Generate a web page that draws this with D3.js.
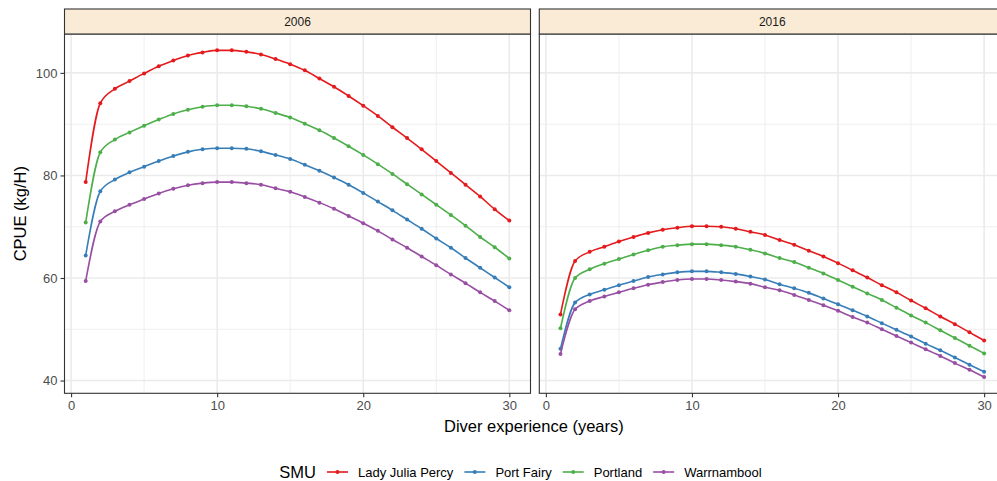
<!DOCTYPE html>
<html>
<head>
<meta charset="utf-8">
<script src="https://cdn.jsdelivr.net/npm/d3@7"></script>
<style>
  body { margin: 0; background: #fff; }
  svg { display: block; font-family: "Liberation Sans", Arial, sans-serif; }
</style>
</head>
<body>
<div id="chart"></div>
<script>
// diver experience (years)
const experience = d3.range(1, 31);
const years = ['2006', '2016'];
const smus = ['Lady Julia Percy', 'Port Fairy', 'Portland', 'Warrnambool'];
const smuColors = ['#E41A1C', '#377EB8', '#4DAF4A', '#984EA3'];

// CPUE (kg/H), 2006
const ljp2006 = [78.7, 94.1, 96.9, 98.4, 99.9, 101.3, 102.4, 103.4, 104.0, 104.4, 104.4, 104.1, 103.6, 102.7, 101.7,
  100.5, 98.9, 97.3, 95.5, 93.6, 91.6, 89.4, 87.3, 85.1, 82.8, 80.5, 78.2, 75.9, 73.4, 71.2];
const pf2006 = [64.4, 76.9, 79.2, 80.6, 81.7, 82.8, 83.8, 84.6, 85.1, 85.3, 85.3, 85.2, 84.7, 84.0, 83.2,
  82.1, 80.9, 79.6, 78.2, 76.6, 74.9, 73.2, 71.4, 69.6, 67.7, 65.9, 63.9, 62.0, 60.1, 58.2];
const portland2006 = [70.8, 84.5, 87.0, 88.4, 89.7, 90.9, 92.0, 92.8, 93.4, 93.7, 93.7, 93.5, 93.0, 92.2, 91.3,
  90.1, 88.8, 87.3, 85.7, 84.0, 82.2, 80.3, 78.3, 76.3, 74.3, 72.3, 70.2, 68.0, 66.0, 63.8];
const warr2006 = [59.4, 71.0, 73.0, 74.3, 75.4, 76.5, 77.4, 78.1, 78.5, 78.7, 78.7, 78.5, 78.2, 77.5, 76.8,
  75.8, 74.7, 73.5, 72.1, 70.7, 69.2, 67.5, 65.9, 64.2, 62.5, 60.7, 59.0, 57.2, 55.5, 53.7];

// CPUE (kg/H), 2016
const ljp2016 = [52.9, 63.3, 65.1, 66.1, 67.1, 68.0, 68.8, 69.4, 69.8, 70.1, 70.1, 70.0, 69.6, 69.0, 68.4,
  67.4, 66.5, 65.3, 64.2, 62.9, 61.5, 60.1, 58.6, 57.2, 55.6, 54.1, 52.5, 51.0, 49.4, 47.8];
const pf2016 = [46.2, 55.2, 56.8, 57.7, 58.6, 59.4, 60.2, 60.7, 61.1, 61.3, 61.3, 61.1, 60.8, 60.3, 59.7,
  58.8, 58.0, 57.1, 56.0, 54.9, 53.7, 52.5, 51.2, 49.9, 48.6, 47.2, 45.9, 44.5, 43.1, 41.7];
const portland2016 = [50.2, 60.0, 61.7, 62.8, 63.7, 64.6, 65.4, 66.1, 66.4, 66.6, 66.6, 66.4, 66.1, 65.5, 64.8,
  63.9, 63.1, 62.0, 60.9, 59.6, 58.3, 57.0, 55.7, 54.2, 52.7, 51.3, 49.8, 48.3, 46.8, 45.3];
const warr2016 = [45.2, 53.9, 55.5, 56.4, 57.2, 58.0, 58.7, 59.2, 59.6, 59.8, 59.8, 59.6, 59.3, 58.9, 58.2,
  57.6, 56.7, 55.7, 54.7, 53.6, 52.4, 51.3, 50.0, 48.7, 47.4, 46.1, 44.8, 43.4, 42.1, 40.7];

const xTicks = [0, 10, 20, 30];
const xMinor = [5, 15, 25];
const yTicks = [40, 60, 80, 100];
const yMinor = [50, 70, 90];

const panelValues = {
  '2006': [ljp2006, pf2006, portland2006, warr2006],
  '2016': [ljp2016, pf2016, portland2016, warr2016]
};

const W = 997, H = 481;
const panelW = 466, panelTop = 34, panelBottom = 393.3, stripH = 25;
const panelLeft = [64.5, 539.3];

const svg = d3.select('#chart').append('svg')
  .attr('width', W).attr('height', H);

// shared scales (ggplot style 5% expansion)
const allVals = [].concat(...years.map(y => [].concat(...panelValues[y])));
const yExt = d3.extent(allVals);
const yPad = (yExt[1] - yExt[0]) * 0.05;
const y = d3.scaleLinear().domain([yExt[0] - yPad, yExt[1] + yPad]).range([panelBottom, panelTop]);
const xPad = (30 - 1) * 0.05;
const x = d3.scaleLinear().domain([1 - xPad, 30 + xPad]).range([0, panelW]);

const color = d3.scaleOrdinal().domain(smus).range(smuColors);

const line = d3.line()
  .x(d => x(d.t))
  .y(d => y(d.v))
  .curve(d3.curveMonotoneX);

years.forEach((yr, pi) => {
  const g = svg.append('g').attr('transform', 'translate(' + panelLeft[pi] + ',0)');

  // minor grid
  g.selectAll('.gx-minor').data(xMinor).enter().append('line')
    .attr('x1', d => x(d)).attr('x2', d => x(d))
    .attr('y1', panelTop).attr('y2', panelBottom)
    .attr('stroke', '#EBEBEB').attr('stroke-width', 0.8);
  g.selectAll('.gy-minor').data(yMinor).enter().append('line')
    .attr('x1', 0).attr('x2', panelW)
    .attr('y1', d => y(d)).attr('y2', d => y(d))
    .attr('stroke', '#EBEBEB').attr('stroke-width', 0.8);
  // major grid
  g.selectAll('.gx').data(xTicks).enter().append('line')
    .attr('x1', d => x(d)).attr('x2', d => x(d))
    .attr('y1', panelTop).attr('y2', panelBottom)
    .attr('stroke', '#EBEBEB').attr('stroke-width', 1.6);
  g.selectAll('.gy').data(yTicks).enter().append('line')
    .attr('x1', 0).attr('x2', panelW)
    .attr('y1', d => y(d)).attr('y2', d => y(d))
    .attr('stroke', '#EBEBEB').attr('stroke-width', 1.6);

  // series
  smus.forEach((s, si) => {
    const pts = experience.map((t, i) => ({ t: t, v: panelValues[yr][si][i] }));
    g.append('path').datum(pts)
      .attr('d', line)
      .attr('fill', 'none')
      .attr('stroke', color(s))
      .attr('stroke-width', 1.6);
    g.selectAll(null).data(pts).enter().append('circle')
      .attr('cx', d => x(d.t)).attr('cy', d => y(d.v))
      .attr('r', 2)
      .attr('fill', color(s));
  });

  // panel border
  g.append('rect')
    .attr('x', 0).attr('y', panelTop)
    .attr('width', panelW).attr('height', panelBottom - panelTop)
    .attr('fill', 'none').attr('stroke', '#333333').attr('stroke-width', 1.1);

  // strip
  g.append('rect')
    .attr('x', 0).attr('y', panelTop - stripH)
    .attr('width', panelW).attr('height', stripH)
    .attr('fill', '#FAEBD7').attr('stroke', '#333333').attr('stroke-width', 1.1);
  g.append('text')
    .attr('x', panelW / 2).attr('y', panelTop - stripH / 2)
    .attr('dy', '0.35em')
    .attr('text-anchor', 'middle')
    .attr('font-size', '12px')
    .attr('fill', '#1A1A1A')
    .text(yr);

  // x axis
  const xa = g.append('g').attr('transform', 'translate(0,' + panelBottom + ')')
    .call(d3.axisBottom(x).tickValues(xTicks).tickSize(4).tickPadding(3));
  xa.select('.domain').remove();
  xa.selectAll('line').attr('stroke', '#333333').attr('stroke-width', 1.1);
  xa.selectAll('text').attr('font-size', '13px').attr('fill', '#4D4D4D')
    .attr('font-family', '"Liberation Sans", Arial, sans-serif');

  // y axis on first panel only
  if (pi === 0) {
    const ya = g.append('g')
      .call(d3.axisLeft(y).tickValues(yTicks).tickSize(4).tickPadding(3));
    ya.select('.domain').remove();
    ya.selectAll('line').attr('stroke', '#333333').attr('stroke-width', 1.1);
    ya.selectAll('text').attr('font-size', '13px').attr('fill', '#4D4D4D')
      .attr('font-family', '"Liberation Sans", Arial, sans-serif');
  }
});

// axis titles
svg.append('text')
  .attr('x', (panelLeft[0] + panelLeft[1] + panelW) / 2 - 1).attr('y', 432)
  .attr('text-anchor', 'middle')
  .attr('font-size', '16.5px')
  .attr('fill', '#000')
  .text('Diver experience (years)');

svg.append('text')
  .attr('transform', 'translate(26,' + ((panelTop + panelBottom) / 2) + ') rotate(-90)')
  .attr('text-anchor', 'middle')
  .attr('font-size', '16.5px')
  .attr('fill', '#000')
  .text('CPUE (kg/H)');

// legend
const legend = svg.append('g');
const legY = 472;
const title = legend.append('text')
  .attr('x', 0).attr('y', legY).attr('dy', '0.35em')
  .attr('font-size', '16.5px').text('SMU');
let cursor = title.node().getComputedTextLength() + 11;
smus.forEach((s, i) => {
  legend.append('line')
    .attr('x1', cursor).attr('x2', cursor + 21)
    .attr('y1', legY).attr('y2', legY)
    .attr('stroke', color(s)).attr('stroke-width', 1.6);
  legend.append('circle')
    .attr('cx', cursor + 10.5).attr('cy', legY).attr('r', 2)
    .attr('fill', color(s));
  cursor += 21 + 10;
  const t = legend.append('text')
    .attr('x', cursor).attr('y', legY).attr('dy', '0.35em')
    .attr('font-size', '13px').text(s);
  cursor += t.node().getComputedTextLength() + 11;
});
const legW = cursor - 11;
legend.attr('transform', 'translate(' + (520.5 - legW / 2) + ',0)');
</script>
</body>
</html>
